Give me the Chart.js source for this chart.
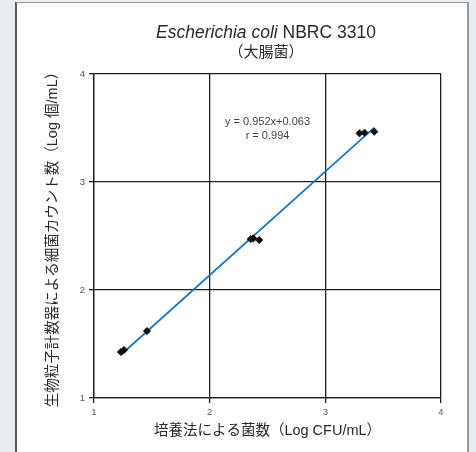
<!DOCTYPE html>
<html>
<head>
<meta charset="utf-8">
<script src="https://cdn.jsdelivr.net/npm/chart.js@4/dist/chart.umd.min.js"></script>
<style>
  html, body { margin: 0; padding: 0; width: 476px; height: 452px; overflow: hidden; background: #e8edf2; }
  #panel {
    position: absolute; left: 15px; top: 2px; width: 454px; height: 470px;
    box-sizing: border-box; background: #fff;
    border-left: 2px solid #5a5a5a; border-top: 1px solid #9a9a9a; border-right: 2px solid #9a9a9a;
  }
  #chart { position: absolute; left: 0; top: 0; }
</style>
</head>
<body>
<div id="panel"></div>
<canvas id="chart" width="476" height="452"></canvas>
<script>
// Log counts: culture method (x) vs. particle counter (y)
const cultureLog = [1.233, 1.259, 1.458, 2.355, 2.377, 2.429, 3.295, 3.339, 3.423];
const counterLog = [1.426, 1.444, 1.620, 2.472, 2.478, 2.463, 3.451, 3.456, 3.466];
const axisTicks = [1, 2, 3, 4];
const fitLines = ['y = 0.952x+0.063', 'r = 0.994'];
const titleItalic = 'Escherichia coli';
const titleRest = ' NBRC 3310';
const subtitle = '（大腸菌）';
const xTitle = '培養法による菌数（Log CFU/mL）';
const yTitle = '生物粒子計数器による細菌カウント数（Log 個/mL）';

// least-squares trend through the measured points
function leastSquares(xs, ys) {
  const n = xs.length;
  const mx = xs.reduce((a, b) => a + b, 0) / n;
  const my = ys.reduce((a, b) => a + b, 0) / n;
  let sxy = 0, sxx = 0;
  for (let i = 0; i < n; i++) { sxy += (xs[i] - mx) * (ys[i] - my); sxx += (xs[i] - mx) ** 2; }
  const slope = sxy / sxx;
  return { slope, intercept: my - slope * mx };
}
const fit = leastSquares(cultureLog, counterLog);
const xLo = Math.min(...cultureLog), xHi = Math.max(...cultureLog);
const trend = [xLo, xHi].map(x => ({ x, y: fit.slope * x + fit.intercept }));
const points = cultureLog.map((x, i) => ({ x, y: counterLog[i] }));

const FONT = '"Liberation Sans", Arial, "Noto Sans CJK JP", sans-serif';
const gridColor = '#1e1e1e';

const textPlugin = {
  id: 'headerText',
  afterDraw(chart) {
    const ctx = chart.ctx;
    const area = chart.chartArea;
    ctx.save();
    ctx.fillStyle = '#2a2a2a';
    ctx.textBaseline = 'middle';
    // title with italic species name
    const italicFont = 'italic 17.5px ' + FONT;
    const normalFont = '17.5px ' + FONT;
    ctx.font = italicFont; const w1 = ctx.measureText(titleItalic).width;
    ctx.font = normalFont; const w2 = ctx.measureText(titleRest).width;
    const cx = 266;
    let x0 = cx - (w1 + w2) / 2;
    ctx.textAlign = 'left';
    ctx.font = italicFont; ctx.fillText(titleItalic, x0, 33);
    ctx.font = normalFont; ctx.fillText(titleRest, x0 + w1, 33);
    ctx.textAlign = 'center';
    ctx.font = '15px ' + FONT;
    ctx.fillText(subtitle, cx, 53);
    // regression annotation
    ctx.fillStyle = '#444';
    ctx.font = '11px ' + FONT;
    const ex = (area.left + area.right) / 2;
    ctx.fillText(fitLines[0], ex, area.top + 47.5);
    ctx.fillText(fitLines[1], ex, area.top + 61.5);
    ctx.restore();
  }
};

function axis(titleText, titlePad, fitFn) {
  return {
    type: 'linear', min: axisTicks[0], max: axisTicks[axisTicks.length - 1],
    afterBuildTicks: s => { s.ticks = axisTicks.map(v => ({ value: v })); },
    afterFit: fitFn,
    grid: { color: gridColor, lineWidth: 1.3, tickLength: 5, drawTicks: true },
    border: { color: gridColor, width: 1.3 },
    ticks: { font: { family: FONT, size: 9.5 }, color: '#555', padding: 4 },
    title: { display: true, text: titleText, color: '#2a2a2a',
             font: { family: FONT, size: 14.5 }, padding: titlePad }
  };
}

new Chart(document.getElementById('chart'), {
  type: 'scatter',
  data: {
    datasets: [
      { data: points, pointStyle: 'rectRot', pointRadius: 3.8, pointHoverRadius: 3.8,
        backgroundColor: '#111', borderColor: '#111', borderWidth: 0.5 },
      { data: trend, showLine: true, pointRadius: 0, borderColor: '#1b75c5', borderWidth: 1.8 }
    ]
  },
  options: {
    responsive: false, animation: false, events: [],
    layout: { padding: { left: 0, right: 35, top: 74, bottom: 0 } },
    plugins: { legend: { display: false }, tooltip: { enabled: false } },
    scales: {
      x: axis(xTitle, { bottom: 12 }, s => { s.height = 54; }),
      y: axis(yTitle, { top: 44 }, s => { s.width = 94; })
    }
  },
  plugins: [textPlugin]
});
</script>
</body>
</html>
